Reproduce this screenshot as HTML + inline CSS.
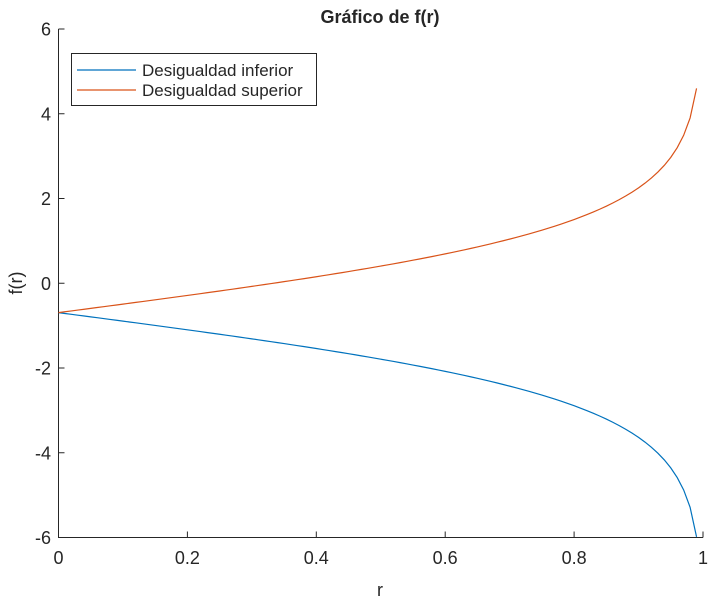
<!DOCTYPE html>
<html><head><meta charset="utf-8"><style>
body{margin:0;background:#fff;}
text{font-family:"Liberation Sans",Arial,sans-serif;fill:#262626;}
</style></head><body>
<svg id="s" width="709" height="599" xmlns="http://www.w3.org/2000/svg">
<rect width="709" height="599" fill="#fff"/>
<text x="380" y="23" font-size="18" font-weight="bold" text-anchor="middle" fill="#000">Gráfico de f(r)</text>
<g stroke="#262626" stroke-width="1" fill="none">
<path d="M58.5 29 V537.5 H703"/>
</g>
<g id="ticks" stroke="#262626" stroke-width="1"></g>
<g id="labels" font-size="18"></g>
<text x="380" y="596" font-size="18" text-anchor="middle">r</text>
<text transform="translate(22,283) rotate(-90)" font-size="18" text-anchor="middle">f(r)</text>
<path id="lo" fill="none" stroke="#0072BD" stroke-width="1.2"/>
<path id="up" fill="none" stroke="#D95319" stroke-width="1.2"/>
<rect x="71.5" y="53.5" width="245" height="52" fill="#fff" stroke="#262626" stroke-width="1"/>
<line x1="77" y1="70" x2="136" y2="70" stroke="#0072BD" stroke-width="1.2"/>
<line x1="77" y1="90" x2="136" y2="90" stroke="#D95319" stroke-width="1.2"/>
<text x="142" y="76" font-size="17" fill="#000">Desigualdad inferior</text>
<text x="142" y="96" font-size="17" fill="#000">Desigualdad superior</text>
</svg>
<script>
var X0=58.5,X1=703,Y0=537.5,Y1=29;
function px(r){return X0+(X1-X0)*r;}
function py(v){return Y0+(Y1-Y0)*(v+6)/12;}
var t=document.getElementById('ticks'),l=document.getElementById('labels'),ns='http://www.w3.org/2000/svg';
function el(p,n,a,txt){var e=document.createElementNS(ns,n);for(var k in a)e.setAttribute(k,a[k]);if(txt!=null)e.textContent=txt;p.appendChild(e);}
for(var i=0;i<=5;i++){var x=px(i*0.2);el(t,'line',{x1:x,y1:Y0,x2:x,y2:Y0-6});
 el(l,'text',{x:x,y:564,'text-anchor':'middle'},i==0?'0':i==5?'1':(i*0.2).toFixed(1));}
for(var v=-6;v<=6;v+=2){var y=py(v);el(t,'line',{x1:X0,y1:y,x2:X0+6,y2:y});
 el(l,'text',{x:51,y:y+6.5,'text-anchor':'end'},String(v));}
var a='',b='';
for(var k=0;k<=99;k++){var r=k/100,L=Math.log((1+r)/(1-r));
 var lo=-Math.LN2-L,up=-Math.LN2+L;
 a+=(k?'L':'M')+px(r).toFixed(2)+' '+py(Math.max(lo,-6)).toFixed(2);
 b+=(k?'L':'M')+px(r).toFixed(2)+' '+py(up).toFixed(2);}
document.getElementById('lo').setAttribute('d',a);
document.getElementById('up').setAttribute('d',b);
</script>
</body></html>
